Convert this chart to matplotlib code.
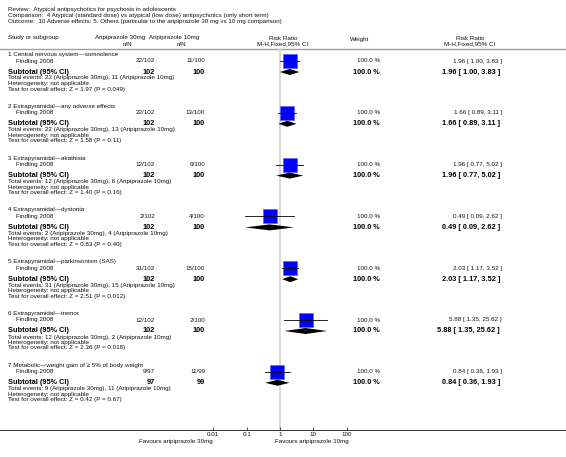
import matplotlib
matplotlib.use("Agg")
import matplotlib.pyplot as plt

plt.rcParams['font.family'] = ['Liberation Sans', 'DejaVu Sans']

# ---------------- data ----------------
review = "Review:  Atypical antipsychotics for psychosis in adolescents"
comparison = "Comparison:  4 Atypical (standard dose) vs atypical (low dose) antipsychotics (only short term)"
outcome = "Outcome:  10 Adverse effects: 5. Others (particular to the aripiprazole 30 mg vs 10 mg comparison)"

groups = ["1 Central nervous system\u2014somnolence",
          "2 Extrapyramidal\u2014any adverse effects",
          "3 Extrapyramidal\u2014akathisia",
          "4 Extrapyramidal\u2014dystonia",
          "5 Extrapyramidal\u2014parkinsonism (SAS)",
          "6 Extrapyramidal\u2014tremor",
          "7 Metabolic\u2014weight gain of \u2265 5% of body weight"]
study = "Findling 2008"
events30 = [22, 22, 12, 2, 31, 12, 9]
n30 = [102, 102, 102, 102, 102, 102, 97]
events10 = [11, 13, 6, 4, 15, 2, 11]
n10 = [100, 100, 100, 100, 100, 100, 99]
rr = [1.96, 1.66, 1.96, 0.49, 2.03, 5.88, 0.84]
ci_lo = [1.00, 0.89, 0.77, 0.09, 1.17, 1.35, 0.36]
ci_hi = [3.83, 3.11, 5.02, 2.62, 3.52, 25.62, 1.93]
z_vals = ["1.97", "1.58", "1.40", "0.83", "2.51", "2.36", "0.42"]
p_vals = ["0.049", "0.11", "0.16", "0.40", "0.012", "0.018", "0.67"]
weights = ["100.0 %"] * 7
ticks = [0.01, 0.1, 1, 10, 100]
tick_labels = ["0.01", "0.1", "1", "10", "100"]
label_left = "Favours aripiprazole 30mg"
label_right = "Favours aripiprazole 10mg"

# ---------------- layout ----------------
W, H = 566, 457
fig = plt.figure(figsize=(W / 100, H / 100), dpi=100)
ax = fig.add_axes([0, 0, 1, 1])
ax.set_xlim(0, W)
ax.set_ylim(H, 0)
ax.axis('off')

fs = 4.5
fsb = 5.3
tc = '#111111'

ax.text(8, 9.5, review, fontsize=fs, va='center', color=tc)
ax.text(8, 15.5, comparison, fontsize=fs, va='center', color=tc)
ax.text(8, 21.5, outcome, fontsize=fs, va='center', color=tc)

hy1, hy2 = 38.0, 44.0
ax.text(8, hy1, "Study or subgroup", fontsize=fs, va='center', color=tc)
ax.text(120, hy1, "Aripiprazole 30mg", fontsize=fs, va='center', ha='center', color=tc)
ax.text(127, hy2, "n/N", fontsize=fs, va='center', ha='center', color=tc)
ax.text(174, hy1, "Aripiprazole 10mg", fontsize=fs, va='center', ha='center', color=tc)
ax.text(181, hy2, "n/N", fontsize=fs, va='center', ha='center', color=tc)
ax.text(283, hy1, "Risk Ratio", fontsize=fs, va='center', ha='center', color=tc)
ax.text(283, hy2, "M-H,Fixed,95% CI", fontsize=fs, va='center', ha='center', color=tc)
ax.text(350, 39, "Weight", fontsize=fs, va='center', ha='left', color=tc)
ax.text(470, hy1, "Risk Ratio", fontsize=fs, va='center', ha='center', color=tc)
ax.text(470, hy2, "M-H,Fixed,95% CI", fontsize=fs, va='center', ha='center', color=tc)
ax.plot([0, W], [48.5, 48.5], color='#a0a0a0', lw=1.0)

# forest axes: x from 0.01 (px 213) to 100 (px 347), y pixel rows 48.5..430
x0, x1 = 213.3, 346.7
ytop, ybot = 48.5, 430
fa = fig.add_axes([x0 / W, (H - ybot) / H, (x1 - x0) / W, (ybot - ytop) / H])
fa.set_xscale('log')
fa.set_xlim(0.01, 100)
fa.set_ylim(ybot, ytop)
fa.patch.set_alpha(0)
for s in fa.spines.values():
    s.set_visible(False)
fa.set_yticks([])
fa.set_xticks(ticks)
fa.set_xticklabels(tick_labels, fontsize=fs, color=tc)
fa.minorticks_off()
fa.tick_params(axis='x', direction='in', length=2.5, width=0.6, pad=1.5, color='#333333')
fa.axvline(1, color='#d9d9d9', lw=1.4, zorder=0)

ax.plot([0, W], [ybot, ybot], color='#333333', lw=0.7)
ax.text(213, 441, label_left, fontsize=fs, va='center', ha='right', color=tc)
ax.text(275, 441, label_right, fontsize=fs, va='center', ha='left', color=tc)

gap = 51.8
for i in range(len(groups)):
    base = 54.5 + gap * i
    yf = base + 6.5
    ys = base + 17.5
    ax.text(8, base, groups[i], fontsize=fs, va='center', color=tc)
    ax.text(16, yf, study, fontsize=fs, va='center', color=tc)
    ax.text(155, yf, f"{events30[i]}/{n30[i]}", fontsize=fs, va='center', ha='right', color=tc)
    ax.text(205, yf, f"{events10[i]}/{n10[i]}", fontsize=fs, va='center', ha='right', color=tc)
    ax.text(380, yf, weights[i], fontsize=fs, va='center', ha='right', color=tc)
    ax.text(502, yf, f"{rr[i]:.2f} [ {ci_lo[i]:.2f}, {ci_hi[i]:.2f} ]", fontsize=fs, va='center', ha='right', color=tc)

    ax.text(8, ys, "Subtotal (95% CI)", fontsize=fsb, va='center', fontweight='bold')
    ax.text(155, ys, f"{n30[i]}", fontsize=fsb, va='center', ha='right', fontweight='bold')
    ax.text(205, ys, f"{n10[i]}", fontsize=fsb, va='center', ha='right', fontweight='bold')
    ax.text(380, ys, weights[i], fontsize=fsb, va='center', ha='right', fontweight='bold')
    ax.text(500, ys, f"{rr[i]:.2f} [ {ci_lo[i]:.2f}, {ci_hi[i]:.2f} ]", fontsize=fsb, va='center', ha='right', fontweight='bold')
    ax.text(8, base + 23.5, f"Total events: {events30[i]} (Aripiprazole 30mg), {events10[i]} (Aripiprazole 10mg)", fontsize=fs, va='center', color=tc)
    ax.text(8, base + 29, "Heterogeneity: not applicable", fontsize=fs, va='center', color=tc)
    ax.text(8, base + 34.5, f"Test for overall effect: Z = {z_vals[i]} (P = {p_vals[i]})", fontsize=fs, va='center', color=tc)

    # study square + CI
    fa.plot([rr[i]], [yf], marker='s', markersize=9.5, color='#0000ff',
            markeredgecolor='#6060ff', markeredgewidth=0.5, clip_on=False, zorder=3)
    fa.plot([ci_lo[i], ci_hi[i]], [yf, yf], color='#000000', lw=0.6, clip_on=False, zorder=4)
    # pooled diamond
    fa.fill([ci_lo[i], rr[i], ci_hi[i], rr[i]], [ys, ys - 3, ys, ys + 3],
            color='#000000', lw=0, clip_on=False, zorder=3)

fig.savefig("out.png", dpi=100)
